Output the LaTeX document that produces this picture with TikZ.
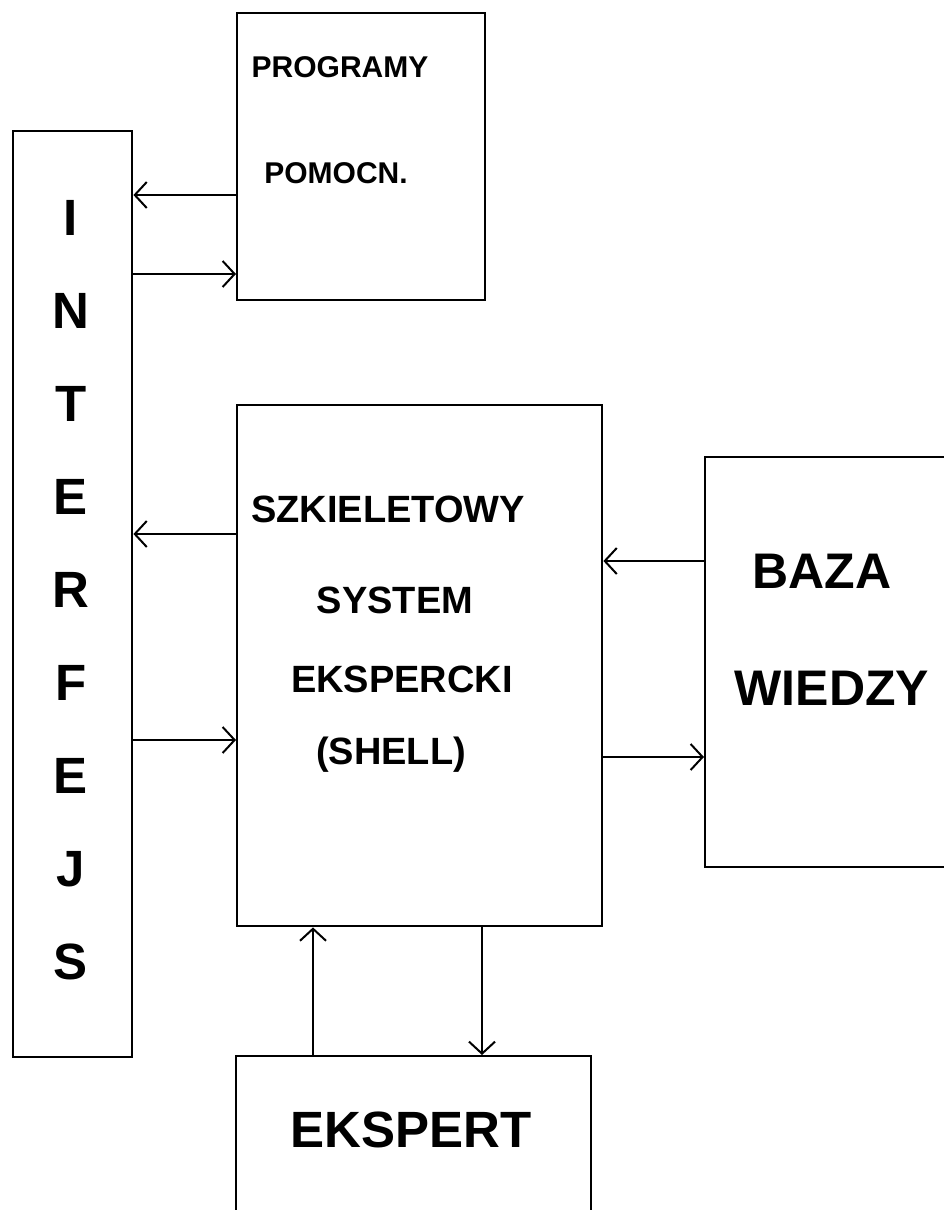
\documentclass[tikz,border=0pt]{standalone}
\usepackage{fontspec}
\setmainfont{Liberation Sans}
\usetikzlibrary{arrows.meta}
\tikzset{
  box/.style={draw, line width=2.4pt, inner sep=0pt, anchor=north west, rectangle},
  arr/.style={line width=2pt, -{Straight Barb[length=12pt,width=26pt]}},
  lab/.style={inner sep=0pt, anchor=base, font=\bfseries}
}
\newcommand{\fsz}[1]{\fontsize{#1}{#1}\selectfont}
\begin{document}
\begin{tikzpicture}[x=1pt,y=-1pt]
\useasboundingbox (0,0) rectangle (944,1210);
\clip (0,0) rectangle (944,1210);
% boxes
\node[box, minimum width=119pt, minimum height=926pt] (inter) at (12,130) {};
\node[box, minimum width=248pt, minimum height=287pt] (prog) at (236,12) {};
\node[box, minimum width=365pt, minimum height=521pt] (shell) at (236,404) {};
\node[box, minimum width=320pt, minimum height=410pt] (baza) at (704,456) {};
\node[box, minimum width=355pt, minimum height=260pt] (eksp) at (235,1055) {};
% labels
\node[lab, font=\bfseries\fsz{30}] (t1) at (340,77) {PROGRAMY};
\node[lab, font=\bfseries\fsz{30}] (t2) at (336,183) {POMOCN.};
\node[lab, font=\bfseries\fsz{38}] (t3) at (388,522) {SZKIELETOWY};
\node[lab, font=\bfseries\fsz{38}] (t4) at (395,613) {SYSTEM};
\node[lab, font=\bfseries\fsz{38}] (t5) at (402,692) {EKSPERCKI};
\node[lab, font=\bfseries\fsz{38}] (t6) at (391,764) {(SHELL)};
\node[lab, font=\bfseries\fsz{50}] (t7) at (822,588) {BAZA};
\node[lab, font=\bfseries\fsz{50}] (t8) at (832,705) {WIEDZY};
\node[lab, font=\bfseries\fsz{51}] (t9) at (411,1147) {EKSPERT};
\foreach \L [count=\i from 0] in {I,N,T,E,R,F,E,J,S}
  \node[lab, font=\bfseries\fsz{51}] (i\i) at (71,{235+93*\i}) {\L};
% connector levels
\coordinate (ya) at (0,195);
\coordinate (yb) at (0,274);
\coordinate (yc) at (0,534);
\coordinate (yd) at (0,740);
\coordinate (ye) at (0,561);
\coordinate (yf) at (0,757);
\coordinate (xa) at (313,0);
\coordinate (xb) at (482,0);
% connectors
\draw[arr] (prog.west |- ya) -- (inter.east |- ya);
\draw[arr] (inter.east |- yb) -- (prog.west |- yb);
\draw[arr] (shell.west |- yc) -- (inter.east |- yc);
\draw[arr] (inter.east |- yd) -- (shell.west |- yd);
\draw[arr] (baza.west |- ye) -- (shell.east |- ye);
\draw[arr] (shell.east |- yf) -- (baza.west |- yf);
\draw[arr] (xa |- eksp.north) -- (xa |- shell.south);
\draw[arr] (xb |- shell.south) -- (xb |- eksp.north);
\end{tikzpicture}
\end{document}
